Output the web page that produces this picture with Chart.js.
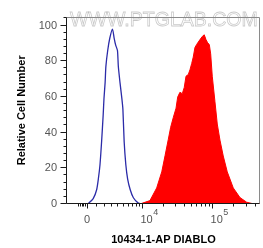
<!DOCTYPE html>
<html lang="pt-br">

<head>
    <meta charset="UTF-8">
    <script src="https://cdn.jsdelivr.net/npm/chart.js"></script>
    <title>DIABLO</title>
    <style>
        html, body { margin: 0; padding: 0; background: #fff; }
        #grafico { width: 263px; height: 248px; }
    </style>
</head>

<body>
    <div id="grafico">
        <canvas id="myChart" width="263" height="248"></canvas>
    </div>

<script>
var azulX = [-2400, 0, 150, 700, 1100, 1300, 1500, 1700, 1900, 2000, 2150, 2250, 2500, 2800, 3200, 3450, 3700, 4000, 4150, 4450, 4800, 5000, 5250, 5600, 6000, 6600, 7400, 8800, 10000];
var azulY = [0, 0, 0.3, 3, 8, 14, 22, 35, 50, 59, 68, 77, 86, 93, 98, 93, 89, 86, 77, 68, 59, 53, 35, 22, 14, 8, 3.5, 0.5, 0];

var vermelhoX = [9300, 13100, 16400, 19400, 21600, 24000, 26000, 28300, 31000, 32700, 35200, 38000, 40500, 42900, 46200, 48800, 51600, 54300, 57400, 60700, 67600, 72900, 77700, 82200, 86800, 91500, 95700, 100800, 110000, 118600, 129400, 144000, 164000, 199400, 247900, 308000, 381600, 475000];
var vermelhoY = [0, 1.9, 9, 18, 27, 36, 43, 48.4, 53.7, 59.9, 62.6, 61.8, 65.3, 71.6, 72.5, 75.2, 78.7, 82.3, 87.7, 89.4, 92.1, 93.9, 94.8, 92.1, 90.3, 89.4, 84.1, 71.6, 57.3, 44.8, 35.8, 26.9, 18, 9, 3.6, 1, 0.1, 0];

// Marcas dos eixos
var yMaiores = [0, 20, 40, 60, 80, 100];
var yMenores = [4, 8, 12, 16, 24, 28, 32, 36, 44, 48, 52, 56, 64, 68, 72, 76, 84, 88, 92, 96, 104];
var xMaiores = [0, 10000, 100000];
var xRotulos = [['0', ''], ['10', '4'], ['10', '5']];
var xMenores = [-1000, -800, -600, -400, -200, 1000, 2000, 3000, 4000, 5000, 6000, 7000, 8000, 9000,
    20000, 30000, 40000, 50000, 60000, 70000, 80000, 90000, 200000, 300000, 400000];

var tituloX = '10434-1-AP DIABLO';
var tituloY = 'Relative Cell Number';
var marcaDagua = 'WWW.PTGLAB.COM';

// escala biexponencial (arcsinh)
var W = 3450;
function biex(v) {
    return Math.asinh(v / W);
}

var fonte = '"Liberation Sans", Arial, sans-serif';

function pontos(xs, ys) {
    var lista = [];
    for (var i = 0; i < xs.length; i++) {
        lista.push({ x: biex(xs[i]), y: ys[i] });
    }
    return lista;
}

// Plugin para a moldura, marcas e rotulos do eixo x
var moldura = {
    id: 'moldura',
    beforeDatasetsDraw(chart) {
        var ctx = chart.ctx;
        ctx.save();
        ctx.font = '18px ' + fonte;
        var w = ctx.measureText(marcaDagua).width;
        var tam = 18 * 188 / w;
        ctx.font = tam + 'px ' + fonte;
        ctx.strokeStyle = 'rgba(0,0,0,0.22)';
        ctx.lineWidth = 0.8;
        ctx.textBaseline = 'alphabetic';
        ctx.strokeText(marcaDagua, 70, 26);
        ctx.restore();
    },
    afterDraw(chart) {
        var ctx = chart.ctx;
        var a = chart.chartArea;
        var sx = chart.scales.x;
        var sy = chart.scales.y;
        var esq = Math.round(a.left) - 0.5;
        var dir = Math.round(a.right) - 0.5;
        var topo = Math.round(a.top) + 0.5;
        var base = Math.round(a.bottom) - 0.5;

        ctx.save();
        ctx.lineWidth = 1;

        // topo e direita em cinza
        ctx.strokeStyle = '#8a8a8a';
        ctx.beginPath();
        ctx.moveTo(esq, topo);
        ctx.lineTo(dir, topo);
        ctx.lineTo(dir, base);
        ctx.stroke();

        // eixos
        ctx.strokeStyle = '#1a1a1a';
        ctx.beginPath();
        ctx.moveTo(esq, topo);
        ctx.lineTo(esq, base);
        ctx.lineTo(dir, base);
        ctx.stroke();

        ctx.beginPath();
        for (var i = 0; i < yMaiores.length; i++) {
            var py = Math.round(sy.getPixelForValue(yMaiores[i])) - 0.5;
            ctx.moveTo(esq - 6, py);
            ctx.lineTo(esq, py);
        }
        for (var i = 0; i < yMenores.length; i++) {
            var py = Math.round(sy.getPixelForValue(yMenores[i])) - 0.5;
            ctx.moveTo(esq - 3, py);
            ctx.lineTo(esq, py);
        }
        for (var i = 0; i < xMaiores.length; i++) {
            var px = Math.round(sx.getPixelForValue(biex(xMaiores[i]))) + 0.5;
            ctx.moveTo(px, base);
            ctx.lineTo(px, base + 5);
        }
        for (var i = 0; i < xMenores.length; i++) {
            var px = Math.round(sx.getPixelForValue(biex(xMenores[i]))) + 0.5;
            ctx.moveTo(px, base);
            ctx.lineTo(px, base + 3);
        }
        ctx.stroke();

        // rotulos do eixo x (com expoente)
        ctx.fillStyle = '#555';
        ctx.textBaseline = 'middle';
        for (var i = 0; i < xMaiores.length; i++) {
            var px = sx.getPixelForValue(biex(xMaiores[i]));
            var r = xRotulos[i];
            ctx.font = '11px ' + fonte;
            if (r[1] === '') {
                ctx.textAlign = 'center';
                ctx.fillText(r[0], px, 220);
            } else {
                ctx.textAlign = 'left';
                ctx.fillText(r[0], px - 1.5, 220);
                var w = ctx.measureText(r[0]).width;
                ctx.font = '9px ' + fonte;
                ctx.fillText(r[1], px - 1 + w, 213);
            }
        }
        ctx.restore();
    }
};

const config = {
    type: 'line',
    data: {
        datasets: [{
            label: 'controle',
            data: pontos(azulX, azulY),
            borderColor: '#2b2ba8',
            borderWidth: 1.3,
            fill: false,
            pointRadius: 0,
            tension: 0.2
        }, {
            label: 'DIABLO',
            data: pontos(vermelhoX, vermelhoY),
            borderColor: '#ff0000',
            backgroundColor: '#ff0000',
            borderWidth: 1,
            fill: 'origin',
            pointRadius: 0,
            tension: 0
        }]
    },
    options: {
        responsive: false,
        animation: false,
        events: [],
        layout: { padding: { top: 8, right: 3, left: 0, bottom: 0 } },
        plugins: {
            legend: { display: false },
            tooltip: { enabled: false }
        },
        scales: {
            x: {
                type: 'linear',
                min: biex(-2400),
                max: biex(475000),
                grid: { display: false, drawTicks: false },
                border: { display: false },
                ticks: { display: false },
                afterFit: function (s) { s.height = 44; },
                title: {
                    display: true,
                    text: tituloX,
                    color: '#000',
                    font: { family: fonte, size: 11, weight: 'bold' },
                    padding: { top: 0, bottom: 1 }
                }
            },
            y: {
                min: 0,
                max: 105,
                grid: { display: false, drawTicks: false },
                border: { display: false },
                afterBuildTicks: function (s) {
                    s.ticks = yMaiores.map(function (v) { return { value: v }; });
                },
                afterFit: function (s) { s.width = 67; },
                ticks: {
                    color: '#555',
                    padding: 10,
                    font: { family: fonte, size: 11 }
                },
                title: {
                    display: true,
                    text: tituloY,
                    color: '#000',
                    font: { family: fonte, size: 11, weight: 'bold' },
                    padding: { top: 15, bottom: 0 }
                }
            }
        }
    },
    plugins: [moldura]
};

let myChart = new Chart(document.getElementById('myChart'), config);
</script>
</body>

</html>
